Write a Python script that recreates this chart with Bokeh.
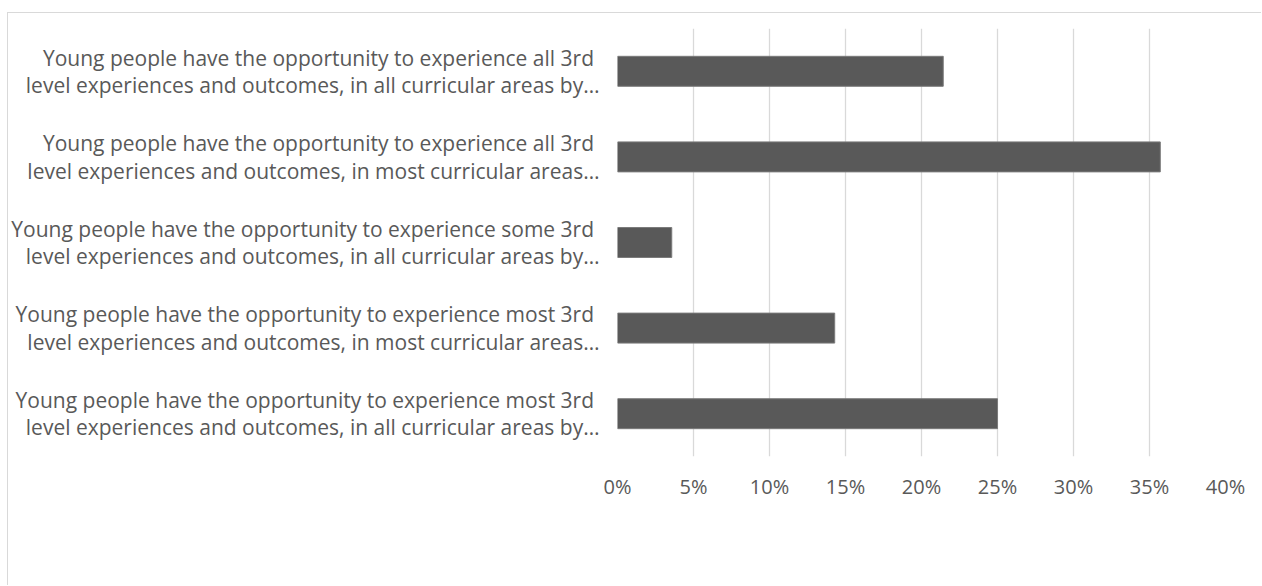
from bokeh.plotting import figure
from bokeh.models import FactorRange, Range1d, FixedTicker, NumeralTickFormatter
from bokeh.embed import file_html
from bokeh.resources import INLINE

# Category labels (top to bottom), split into the two displayed lines
line1 = [
    "Young people have the opportunity to experience all 3rd ",
    "Young people have the opportunity to experience all 3rd ",
    "Young people have the opportunity to experience some 3rd ",
    "Young people have the opportunity to experience most 3rd ",
    "Young people have the opportunity to experience most 3rd ",
]
line2 = [
    "level experiences and outcomes, in all curricular areas by\u2026",
    "level experiences and outcomes, in most curricular areas\u2026",
    "level experiences and outcomes, in all curricular areas by\u2026",
    "level experiences and outcomes, in most curricular areas\u2026",
    "level experiences and outcomes, in all curricular areas by\u2026",
]
categories = [a + "\n" + b for a, b in zip(line1, line2)]
values = [0.2143, 0.3571, 0.0357, 0.1429, 0.25]
x_ticks = [0.0, 0.05, 0.10, 0.15, 0.20, 0.25, 0.30, 0.35, 0.40]

TEXT = "#595959"
FONT = "Open Sans"

p = figure(
    width=1254, height=573,
    y_range=FactorRange(factors=categories[::-1]),
    x_range=Range1d(0, 0.40),
    output_backend="svg", toolbar_location=None,
    min_border_left=609, min_border_right=37,
    min_border_top=15, min_border_bottom=130,
)
p.styles = {"margin-left": "7px", "margin-top": "12px",
            "border-top": "1px solid #d9d9d9", "border-left": "1px solid #d9d9d9"}

p.hbar(y=categories, right=values, left=0, height=0.35,
       fill_color="#595959", line_color="#7a7a7a", line_width=1)

p.outline_line_color = None
p.background_fill_color = "white"
p.border_fill_color = "white"

p.ygrid.grid_line_color = None
p.xgrid.ticker = FixedTicker(ticks=x_ticks)
p.xgrid.grid_line_color = "#d9d9d9"
p.xgrid.grid_line_width = 1.3

p.xaxis.ticker = FixedTicker(ticks=x_ticks)
p.xaxis.formatter = NumeralTickFormatter(format="0%")
for ax in (p.xaxis, p.yaxis):
    ax.axis_line_color = None
    ax.major_tick_line_color = None
    ax.minor_tick_line_color = None
    ax.major_label_text_font = FONT
    ax.major_label_text_color = TEXT
p.xaxis.major_label_text_font_size = "20px"
p.yaxis.major_label_text_font_size = "21px"
p.yaxis.major_label_text_line_height = 0.98
p.xaxis.major_label_standoff = 10
p.yaxis.major_label_standoff = 12

open("out.html", "w").write(file_html(p, INLINE))
